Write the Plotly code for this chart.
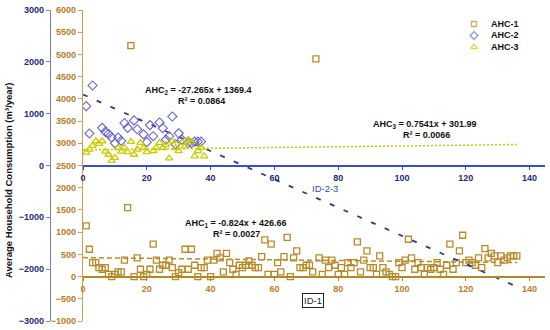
import plotly.graph_objects as go

# ---------------- data ----------------
ahc1_x = list(range(1, 137))
ahc1_y = [1140, 615, 315, 315, 200, 165, 200, 50, 0, 50,
          105, 105, 370, 1550, 5200, 0, 420, 165, 0, 50,
          165, 730, 370, 165, 255, 255, 370, 200, 0, 90,
          165, 615, 165, 615, 255, 0, 200, 200, 370, 0,
          370, 520, 420, 105, 520, 315, 165, 50, 255, 200,
          255, 350, 255, 200, 200, 450, 825, 50, 730, 50,
          315, 105, 450, 880, 0, 420, 580, 200, 200, 255,
          255, 105, 4900, 420, 50, 370, 200, 370, 255, 50,
          200, 50, 315, 200, 315, 780, 105, 370, 580, 200,
          200, 50, 465, 200, 105, 50, 0, 0, 315, 200,
          370, 840, 420, 165, 315, 200, 50, 200, 165, 200,
          315, 165, 50, 255, 730, 165, 315, 580, 930, 315,
          370, 315, 255, 420, 200, 630, 420, 520, 465, 315,
          465, 370, 420, 465, 465, 465]

ahc2_x = [1, 2, 3, 6, 7, 8, 9, 10, 11, 12, 13, 14, 16, 17, 19, 20, 21, 22,
          24, 25, 26, 27, 28, 29, 30, 31, 33, 34, 35, 36, 37]
ahc2_y = [1145, 618, 1544, 727, 650, 610, 540, 430, 540, 475, 820, 727, 870, 700,
          600, 450, 780, 565, 830, 720, 500, 565, 945, 410, 620, 500, 430, 430,
          460, 460, 460]

ahc3_x = [1, 2, 3, 4, 5, 6, 7, 8, 9, 10, 11, 12, 13, 14, 15, 16, 17, 18, 19, 20,
          22, 23, 24, 25, 26, 27, 28, 29, 30, 31, 32, 33, 34, 35, 36, 37, 38]
ahc3_y = [250, 310, 380, 470, 420, 470, 270, 210, 90, 150, 340, 270, 340, 260, 460,
          210, 310, 440, 340, 260, 280, 340, 440, 340, 400, 140, 470, 340, 280, 440,
          370, 500, 450, 180, 280, 340, 180]

# trendline coefficients (as printed on the chart)
trend1 = (-0.824, 426.66)
trend2 = (-27.265, 1369.4)
trend3 = (0.7541, 301.99)

series_names = ["AHC-1", "AHC-2", "AHC-3"]
xticks = [0, 20, 40, 60, 80, 100, 120, 140]
yticks_tan = list(range(-1000, 6001, 500))
yticks_navy = list(range(-3000, 3001, 1000))

# ---------------- styling ----------------
FONT = "Liberation Sans, Arial, sans-serif"
C1 = "#b88a2a"
C2 = "#6464c8"
C3 = "#cccc00"
NAVY_TXT = "#1f2b73"
TAN_TXT = "#b87d22"
BLUE_LINE = "#3b4cc8"
TAN_LINE = "#b08a20"

W, H = 550, 330
ML, MR, MT, MB = 50, 5, 10, 9
PW = W - ML - MR
PH = H - MT - MB


def px(xp):
    return (xp - ML) / PW


def py(yp):
    return (H - MB - yp) / PH


def line_pts(coef, xmax):
    xs = [0, xmax]
    return xs, [coef[0] * v + coef[1] for v in xs]


fig = go.Figure()

xmax = max(ahc1_x)
tx, ty = line_pts(trend1, xmax)
fig.add_trace(go.Scatter(x=tx, y=ty, mode="lines", xaxis="x", yaxis="y",
                         line=dict(color=C1, width=1.5, dash="5px,3px"),
                         showlegend=False, hoverinfo="skip"))
tx, ty = line_pts(trend2, xmax)
fig.add_trace(go.Scatter(x=tx, y=ty, mode="lines", xaxis="x2", yaxis="y2",
                         line=dict(color="#2d3a8c", width=1.8, dash="5px,10px"),
                         showlegend=False, hoverinfo="skip"))
tx, ty = line_pts(trend3, xmax)
fig.add_trace(go.Scatter(x=tx, y=ty, mode="lines", xaxis="x2", yaxis="y2",
                         line=dict(color=C3, width=1.6, dash="2px,2px"),
                         showlegend=False, hoverinfo="skip"))

fig.add_trace(go.Scatter(x=ahc1_x, y=ahc1_y, mode="markers", name=series_names[0],
                         xaxis="x", yaxis="y",
                         marker=dict(symbol="square-open", size=6, color=C1,
                                     line=dict(width=1.3, color=C1)),
                         showlegend=False))
fig.add_trace(go.Scatter(x=ahc2_x, y=ahc2_y, mode="markers", name=series_names[1],
                         xaxis="x2", yaxis="y2",
                         marker=dict(symbol="diamond-open", size=7, color=C2,
                                     line=dict(width=1.1, color=C2)),
                         showlegend=False))
fig.add_trace(go.Scatter(x=ahc3_x, y=ahc3_y, mode="markers", name=series_names[2],
                         xaxis="x2", yaxis="y2",
                         marker=dict(symbol="triangle-up-open", size=6.5, color=C3,
                                     line=dict(width=1.3, color=C3)),
                         showlegend=False))

# legend keys (manual legend on a hidden pixel-space overlay)
leg_y = [24, 35.5, 47]
fig.add_trace(go.Scatter(x=[474, 474, 474], y=leg_y, mode="markers",
                         xaxis="x3", yaxis="y3", showlegend=False, hoverinfo="skip",
                         marker=dict(symbol=["square-open", "diamond-open", "triangle-up-open"],
                                     size=[5, 6, 6], color=[C1, C2, C3],
                                     line=dict(width=1.3, color=[C1, C2, C3]))))

xr = [0, (545 - 83) / 3.19]
dom0 = px(83)

fig.update_layout(
    width=W, height=H,
    margin=dict(l=ML, r=MR, t=MT, b=MB, autoexpand=False),
    paper_bgcolor="white", plot_bgcolor="white",
    font=dict(family=FONT, size=9),
    showlegend=False,
    xaxis=dict(domain=[dom0, 1], range=xr, anchor="free", position=1 / 7,
               showgrid=False, zeroline=False, showline=True, linecolor=TAN_LINE,
               linewidth=1.5, ticks="outside", ticklen=4, tickcolor=TAN_LINE,
               tickvals=xticks, tickfont=dict(color=TAN_TXT, size=9, weight="bold"),
               automargin=False),
    xaxis2=dict(overlaying="x", range=xr, anchor="free", position=0.5,
                showgrid=False, zeroline=False, showline=True, linecolor=BLUE_LINE,
                linewidth=1.5, ticks="outside", ticklen=4, tickcolor=BLUE_LINE,
                tickvals=xticks, tickfont=dict(color=NAVY_TXT, size=9, weight="bold"),
                automargin=False),
    yaxis=dict(domain=[0, 1], range=[-1000, 6000], anchor="x",
               showgrid=False, zeroline=False, showline=True, linecolor="#c8a050",
               linewidth=1.2, ticks="outside", ticklen=4, tickcolor="#c8a050",
               tickvals=yticks_tan, tickfont=dict(color=TAN_TXT, size=9, weight="bold"),
               automargin=False),
    yaxis2=dict(overlaying="y", range=[-3000, 3000], anchor="free", position=0,
                side="left", showgrid=False, zeroline=False, showline=True,
                linecolor="#7b7bc8", linewidth=1.2, ticks="outside", ticklen=4,
                tickcolor="#7b7bc8", tickvals=yticks_navy,
                tickfont=dict(color=NAVY_TXT, size=9, weight="bold"), automargin=False),
    xaxis3=dict(overlaying="x", range=[83, 545], visible=False, anchor="y3"),
    yaxis3=dict(overlaying="y", range=[321, 10], visible=False, anchor="x3"),
)

ann = []


def add_text(text, xp, yp, size=9, color="#111", bold=True, xanchor="center", **kw):
    ann.append(dict(text=text, x=px(xp), y=py(yp), xref="paper", yref="paper",
                    showarrow=False, xanchor=xanchor, yanchor="middle",
                    font=dict(family=FONT, size=size, color=color,
                              weight="bold" if bold else "normal"), **kw))


add_text("Average Household Consumption (m³/year)", 8, 181, size=9.5, textangle=-90)
add_text("AHC<sub>2</sub> = -27.265x + 1369.4", 198, 90)
add_text("R² = 0.0864", 201, 101)
add_text("AHC<sub>3</sub> = 0.7541x + 301.99", 425, 125)
add_text("R² = 0.0066", 426, 135)
add_text("AHC<sub>1</sub> = -0.824x + 426.66", 236, 223)
add_text("R² = 0.0027", 236, 234)
add_text("ID-2-3", 325, 188, size=9.5, color="#3a4aa0", bold=False)
add_text("ID-1", 313, 300, size=9.5, color="#222", bold=False,
         bordercolor="#222", borderwidth=1, borderpad=1)
for name, yy in zip(series_names, leg_y):
    add_text(name, 489, yy, size=9, xanchor="left")

fig.update_layout(annotations=ann)

fig.write_html("out.html", config={"displayModeBar": False},
               post_script="document.body.style.margin='0';document.body.style.padding='0';")
